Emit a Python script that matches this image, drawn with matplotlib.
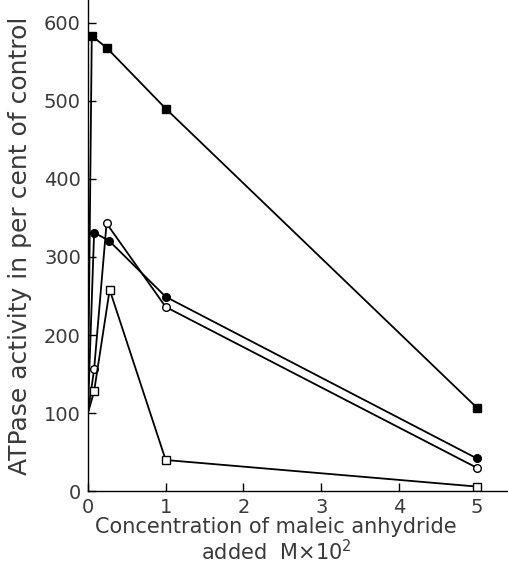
import matplotlib
matplotlib.use("Agg")
import matplotlib.pyplot as plt

# concentration (M x 10^2) and ATPase activity (% of control)
conc_fsq = [0, 0.05, 0.24, 1, 5]
act_fsq = [100, 583, 568, 490, 107]

conc_fci = [0, 0.08, 0.27, 1, 5]
act_fci = [100, 331, 321, 249, 42]

conc_oci = [0, 0.08, 0.24, 1, 5]
act_oci = [100, 156, 343, 236, 30]

conc_osq = [0, 0.08, 0.28, 1, 5]
act_osq = [100, 128, 258, 40, 6]

xticks = [0, 1, 2, 3, 4, 5]
yticks = [0, 100, 200, 300, 400, 500, 600]

plt.rcParams['font.family'] = ['DejaVu Sans']
txt = '#3a3a3a'

fig = plt.figure(figsize=(5.08, 5.64), dpi=100)
ax = fig.add_axes([0.173, 0.129, 0.827, 0.871])

lw = 1.3
ax.plot(conc_fsq, act_fsq, '-', color='k', lw=lw)
ax.plot(conc_fsq[1:], act_fsq[1:], 's', color='k', ms=5.5, mec='k')
ax.plot(conc_fci, act_fci, '-', color='k', lw=lw)
ax.plot(conc_fci[1:], act_fci[1:], 'o', color='k', ms=5.5, mec='k')
ax.plot(conc_oci, act_oci, '-', color='k', lw=lw)
ax.plot(conc_oci[1:], act_oci[1:], 'o', mfc='white', mec='k', ms=5.5, mew=1)
ax.plot(conc_osq, act_osq, '-', color='k', lw=lw)
ax.plot(conc_osq[1:], act_osq[1:], 's', mfc='white', mec='k', ms=5.5, mew=1)

ax.set_xlim(0, 5.4)
ax.set_ylim(0, 629)
ax.set_xticks(xticks)
ax.set_yticks(yticks)
ax.tick_params(direction='in', length=6, width=1, labelsize=14, labelcolor=txt, pad=5)
ax.spines['top'].set_visible(False)
ax.spines['right'].set_visible(False)
ax.spines['left'].set_linewidth(1)
ax.spines['bottom'].set_linewidth(1)

ax.text(0.448, -0.052, 'Concentration of maleic anhydride\nadded  M$\\times$10$^2$',
        transform=ax.transAxes, ha='center', va='top', fontsize=15, color=txt,
        linespacing=1.1)
fig.text(0.04, 0.565, 'ATPase activity in per cent of control', rotation=90,
         ha='center', va='center', fontsize=18, color=txt)

fig.savefig('out.png', dpi=100)
